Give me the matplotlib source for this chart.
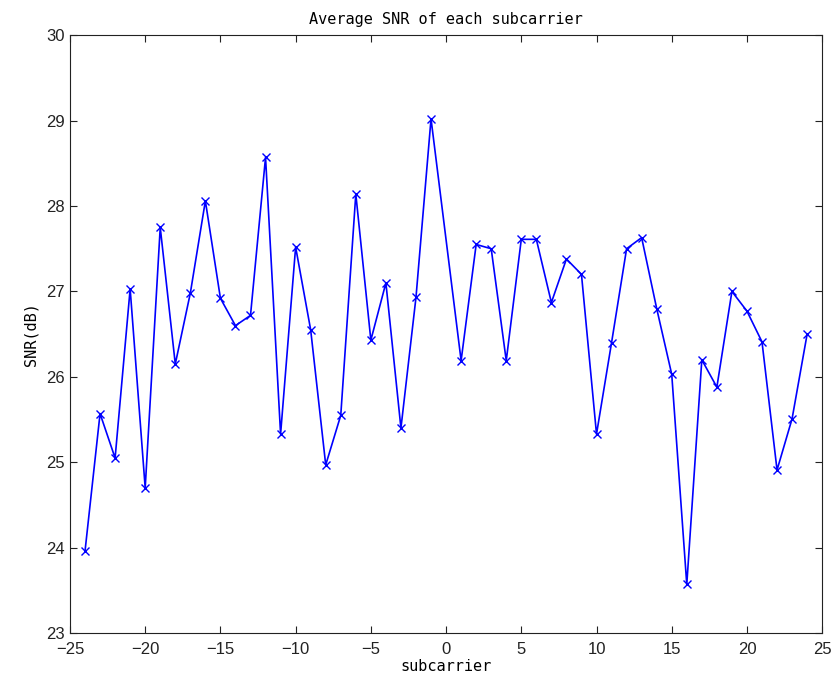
import numpy as np
import matplotlib
matplotlib.use('Agg')
import matplotlib.pyplot as plt

subcarrier = [-24, -23, -22, -21, -20, -19, -18, -17, -16, -15, -14, -13,
              -12, -11, -10, -9, -8, -7, -6, -5, -4, -3, -2, -1,
              1, 2, 3, 4, 5, 6, 7, 8, 9, 10, 11, 12,
              13, 14, 15, 16, 17, 18, 19, 20, 21, 22, 23, 24]
snr = [23.96, 25.57, 25.05, 27.03, 24.70, 27.75, 26.15, 26.98, 28.06, 26.92, 26.60, 26.72,
       28.57, 25.33, 27.52, 26.55, 24.97, 25.55, 28.14, 26.43, 27.10, 25.40, 26.93, 29.02,
       26.19, 27.55, 27.50, 26.19, 27.61, 27.61, 26.87, 27.38, 27.20, 25.33, 26.40, 27.50,
       27.63, 26.80, 26.03, 23.57, 26.20, 25.88, 27.00, 26.77, 26.41, 24.91, 25.51, 26.50]

fig = plt.figure(figsize=(8.33, 6.89), dpi=100)
ax = fig.add_axes([0.084, 0.081, 0.903, 0.868])
ax.plot(subcarrier, snr, color='#0000ff', marker='x', markersize=6, linewidth=1.2, markeredgewidth=1)

ax.set_xlim(-25, 25)
ax.set_ylim(23, 30)
ax.set_xticks(np.arange(-25, 26, 5))
ax.set_yticks(np.arange(23, 31, 1))
ax.tick_params(direction='in', top=True, right=True, length=5, labelsize=12, colors='#222222')
ax.tick_params(axis='x', pad=6)
for lab in ax.get_xticklabels() + ax.get_yticklabels():
    lab.set_family('Liberation Sans')
for sp in ax.spines.values():
    sp.set_color('#222222')

ax.set_title('Average SNR of each subcarrier', family='DejaVu Sans Mono', fontsize=11, pad=8)
ax.set_xlabel('subcarrier', family='DejaVu Sans Mono', fontsize=11, labelpad=2)
ax.set_ylabel('SNR(dB)', family='DejaVu Sans Mono', fontsize=11, labelpad=6)

fig.savefig('out.png', dpi=100)
